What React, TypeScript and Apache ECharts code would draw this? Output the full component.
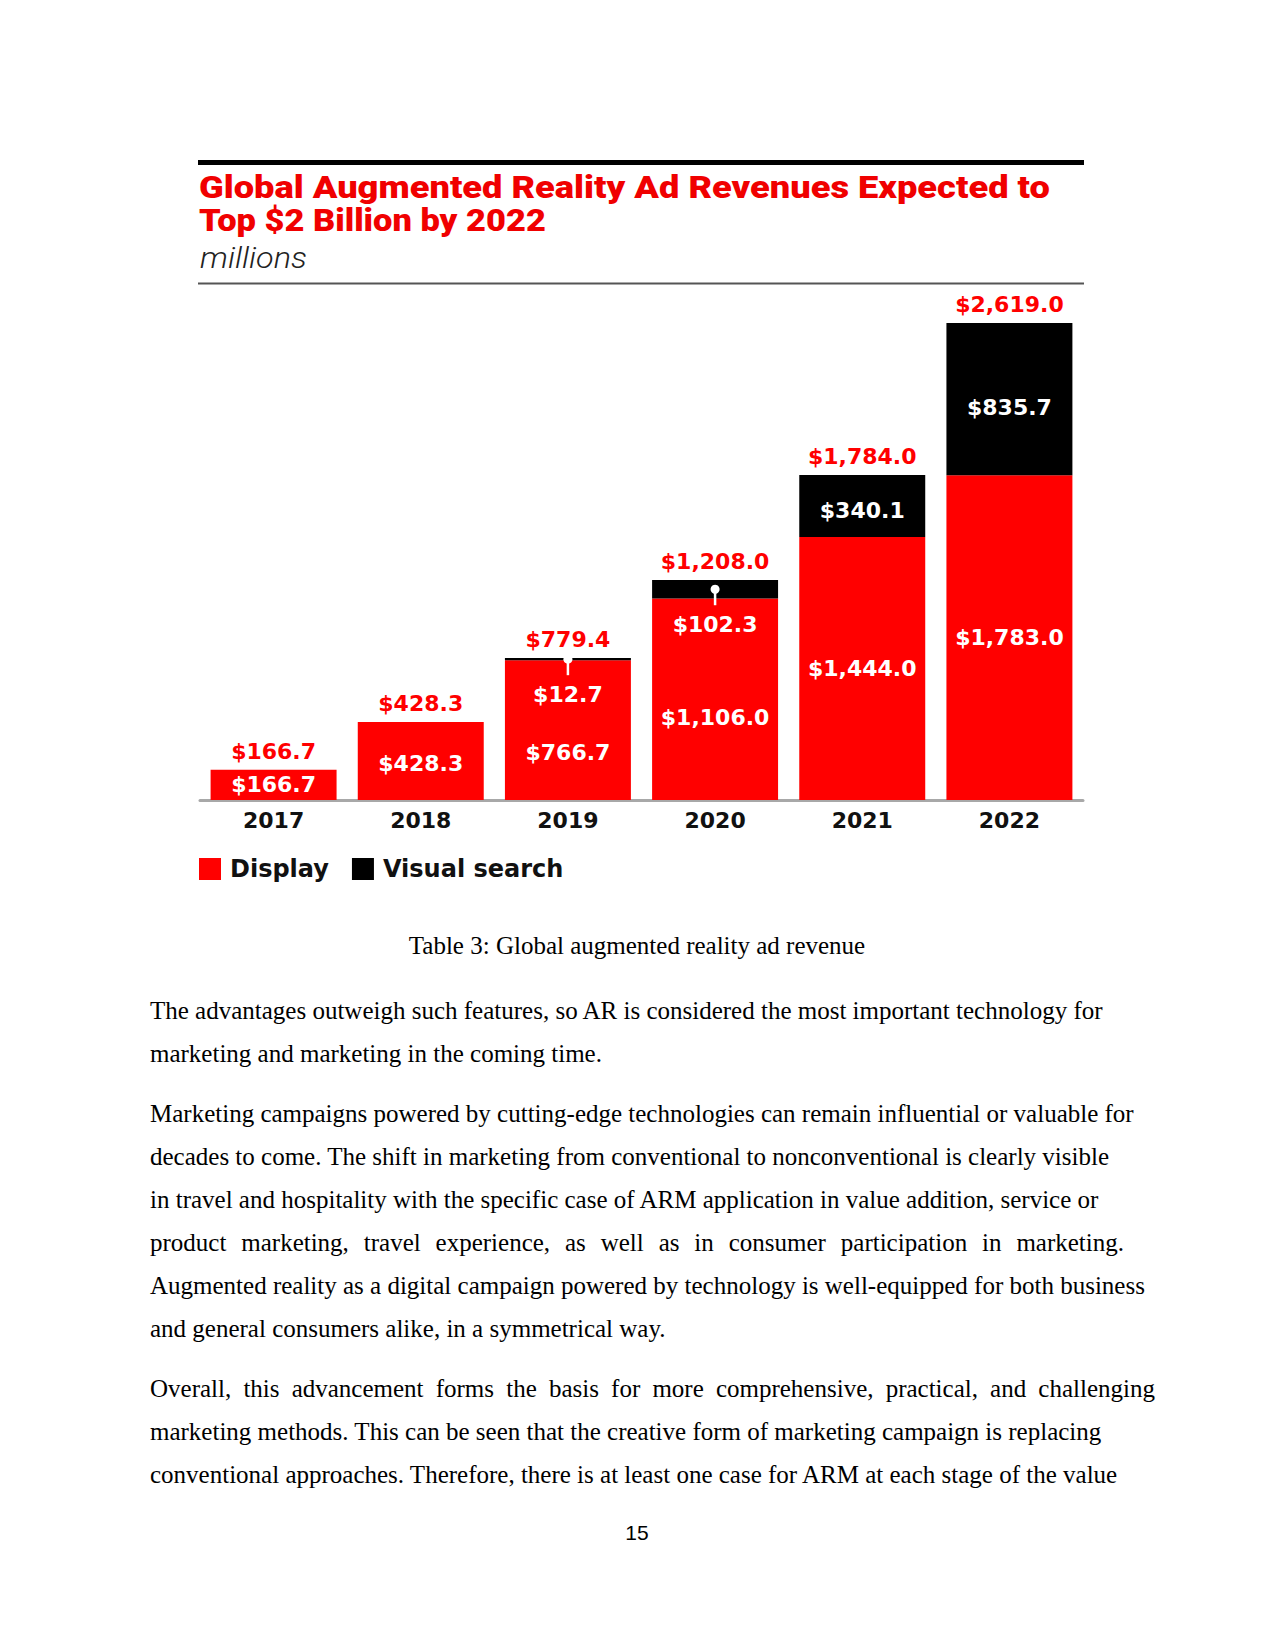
import React, { useEffect, useRef } from 'react';
import * as echarts from 'echarts';

const years = ['2017', '2018', '2019', '2020', '2021', '2022'];
const displayValues = [166.7, 428.3, 766.7, 1106.0, 1444.0, 1783.0];
const visualSearchValues = [0, 0, 12.7, 102.3, 340.1, 835.7];
const totalValues = [166.7, 428.3, 779.4, 1208.0, 1784.0, 2619.0];
const seriesNames = ['Display', 'Visual search'];
const titleLines = ['Global Augmented Reality Ad Revenues Expected to', 'Top $2 Billion by 2022'];
const unitLabel = 'millions';
const captionText = 'Table 3: Global augmented reality ad revenue';
const bodyLines = [
  'The advantages outweigh such features, so AR is considered the most important technology for',
  'marketing and marketing in the coming time.',
  'Marketing campaigns powered by cutting-edge technologies can remain influential or valuable for',
  'decades to come. The shift in marketing from conventional to nonconventional is clearly visible',
  'in travel and hospitality with the specific case of ARM application in value addition, service or',
  'product marketing, travel experience, as well as in consumer participation in marketing.',
  'Augmented reality as a digital campaign powered by technology is well-equipped for both business',
  'and general consumers alike, in a symmetrical way.',
  'Overall, this advancement forms the basis for more comprehensive, practical, and challenging',
  'marketing methods. This can be seen that the creative form of marketing campaign is replacing',
  'conventional approaches. Therefore, there is at least one case for ARM at each stage of the value',
];
const pageNumber = '15';

const RED = '#ff0000';
const NUM_FONT = 'DejaVu Sans';
const BODY_FONT = 'Liberation Serif';

const fmt = (v: number) =>
  '$' + v.toLocaleString('en-US', { minimumFractionDigits: 1, maximumFractionDigits: 1 });

let measureCtx: CanvasRenderingContext2D | null = null;
const measure = (t: string, font: string) => {
  if (!measureCtx) measureCtx = document.createElement('canvas').getContext('2d');
  measureCtx!.font = font;
  return measureCtx!.measureText(t).width;
};

function fittedText(text: string, x: number, y: number, targetW: number, st: any): any {
  const font = `${st.fontStyle || 'normal'} ${st.fontWeight || 'normal'} ${st.fontSize}px ${st.fontFamily}`;
  const w = measure(text, font);
  const sx = w > 0 ? targetW / w : 1;
  return {
    type: 'text',
    x,
    y,
    scaleX: sx,
    style: { text, verticalAlign: 'middle', ...st },
  };
}

function buildBody(): any[] {
  const els: any[] = [];
  const left = 150;
  const lineStep = 43;
  const paraBreakAfter = new Set([1, 7]);
  const justifyTo: Record<number, number> = { 5: 1124, 8: 1155 };
  const fontSize = 25;
  const font = `${fontSize}px "${BODY_FONT}"`;
  let y = 1010;
  bodyLines.forEach((line, i) => {
    if (justifyTo[i] !== undefined) {
      const words = line.split(' ');
      const widths = words.map((w) => measure(w, font));
      const sum = widths.reduce((a, b) => a + b, 0);
      const gap = (justifyTo[i] - left - sum) / (words.length - 1);
      let x = left;
      words.forEach((w, k) => {
        els.push({
          type: 'text',
          x,
          y,
          style: { text: w, fontFamily: BODY_FONT, fontSize, fill: '#000', verticalAlign: 'middle' },
        });
        x += widths[k] + gap;
      });
    } else {
      els.push({
        type: 'text',
        x: left,
        y,
        style: { text: line, fontFamily: BODY_FONT, fontSize, fill: '#000', verticalAlign: 'middle' },
      });
    }
    y += lineStep + (paraBreakAfter.has(i) ? 17 : 0);
  });
  return els;
}

export default function App() {
  const ref = useRef<HTMLDivElement>(null);
  useEffect(() => {
    if (!ref.current) return;
    const chart = echarts.init(ref.current, undefined, { renderer: 'svg' });

    const displayLabelShift: Record<number, number> = { 2: 22, 3: 18, 1: 3 };
    const visualLabelShift: Record<number, number> = { 4: 4, 5: 8 };
    const calloutIdx = visualSearchValues
      .map((v, i) => i)
      .filter((i) => visualSearchValues[i] > 0 && visualSearchValues[i] < 150);

    const labelFont = { fontFamily: NUM_FONT, fontWeight: 'bold' as const, fontSize: 22 };
    const titleStyle = { fontFamily: 'Roboto', fontWeight: 900, fontSize: 31, fill: '#f00000' };
    const unitStyle = { fontFamily: 'Roboto', fontStyle: 'italic', fontWeight: 300, fontSize: 30, fill: '#222' };

    const option: any = {
      animation: false,
      backgroundColor: '#fff',
      legend: {
        data: seriesNames,
        left: 199,
        top: 857,
        padding: 0,
        icon: 'rect',
        itemWidth: 22,
        itemHeight: 22,
        itemGap: 23,
        selectedMode: false,
        textStyle: { ...labelFont, fontSize: 24, color: '#111', padding: [0, 0, 0, 4] },
      },
      grid: { left: 200, right: 192, top: 290, bottom: 851, containLabel: false },
      xAxis: {
        type: 'category',
        data: years,
        axisLine: { lineStyle: { color: '#a8a8a8', width: 3 } },
        axisTick: { show: false },
        axisLabel: { ...labelFont, color: '#111', margin: 9 },
      },
      yAxis: { type: 'value', min: 0, max: 2800, show: false, splitLine: { show: false } },
      series: [
        {
          name: seriesNames[0],
          type: 'bar',
          stack: 'total',
          barWidth: '85.6%',
          itemStyle: { color: RED },
          label: {
            show: true,
            position: 'inside',
            color: '#fff',
            ...labelFont,
            formatter: (p: any) => fmt(p.value),
          },
          data: displayValues.map((v, i) => ({
            value: v,
            label: { offset: [0, displayLabelShift[i] || 0] },
          })),
        },
        {
          name: seriesNames[1],
          type: 'bar',
          stack: 'total',
          barWidth: '85.6%',
          itemStyle: { color: '#000' },
          label: {
            show: true,
            position: 'inside',
            color: '#fff',
            ...labelFont,
            formatter: (p: any) => fmt(p.value),
          },
          data: visualSearchValues.map((v, i) => ({
            value: v,
            label: {
              show: v > 0,
              offset: [0, calloutIdx.includes(i) ? 35 : visualLabelShift[i] || 0],
            },
          })),
        },
        {
          name: 'Total',
          type: 'scatter',
          symbol: 'rect',
          symbolSize: 1,
          silent: true,
          itemStyle: { color: 'rgba(255,255,255,0)', opacity: 1 },
          label: {
            show: true,
            position: 'top',
            distance: 7,
            color: RED,
            opacity: 1,
            textBorderWidth: 0,
            ...labelFont,
            formatter: (p: any) => fmt(p.value),
          },
          data: totalValues,
          z: 5,
        },
        {
          name: 'callouts',
          type: 'custom',
          silent: true,
          z: 10,
          encode: { x: 0, y: 1 },
          data: calloutIdx.map((i) => [i, displayValues[i], visualSearchValues[i]]),
          renderItem: (params: any, api: any) => {
            const idx = api.value(0);
            const base = api.value(1);
            const seg = api.value(2);
            const top = api.coord([idx, base + seg]);
            const bot = api.coord([idx, base]);
            const cx = top[0];
            const cy = (top[1] + bot[1]) / 2;
            return {
              type: 'group',
              children: [
                {
                  type: 'line',
                  shape: { x1: cx, y1: cy, x2: cx, y2: cy + 16 },
                  style: { stroke: '#fff', lineWidth: 2.5 },
                },
                { type: 'circle', shape: { cx, cy, r: 4.5 }, style: { fill: '#fff' } },
              ],
            };
          },
        },
      ],
      graphic: [
        { type: 'rect', shape: { x: 198, y: 160, width: 886, height: 5 }, style: { fill: '#000' } },
        fittedText(titleLines[0], 199, 187, 851, titleStyle),
        fittedText(titleLines[1], 199, 221, 347, titleStyle),
        fittedText(unitLabel, 200, 258, 107, unitStyle),
        {
          type: 'line',
          shape: { x1: 198, y1: 283.5, x2: 1084, y2: 283.5 },
          style: { stroke: '#555', lineWidth: 2 },
        },
        {
          type: 'text',
          x: 637,
          y: 945,
          style: {
            text: captionText,
            fontFamily: BODY_FONT,
            fontSize: 25,
            fill: '#000',
            align: 'center',
            verticalAlign: 'middle',
          },
        },
        ...buildBody(),
        {
          type: 'text',
          x: 637,
          y: 1532,
          style: {
            text: pageNumber,
            fontFamily: 'Liberation Sans',
            fontSize: 21,
            fill: '#000',
            align: 'center',
            verticalAlign: 'middle',
          },
        },
      ],
    };
    chart.setOption(option);
    return () => chart.dispose();
  }, []);
  return (
    <div
      ref={ref}
      style={{ position: 'absolute', left: 0, top: 0, width: 1275, height: 1651, background: '#fff' }}
    />
  );
}
